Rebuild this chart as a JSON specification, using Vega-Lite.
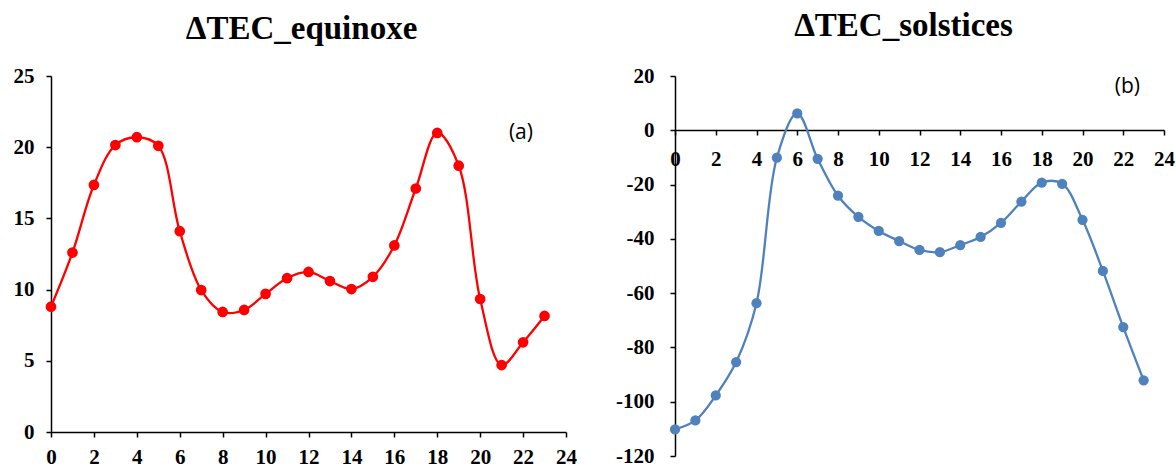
{
  "$schema": "https://vega.github.io/schema/vega-lite/v6.json",
  "padding": {"left": 13, "top": 10, "right": 5, "bottom": 5},
  "background": "white",
  "spacing": 109,
  "bounds": "flush",
  "config": {
    "view": {"stroke": null},
    "axis": {
      "labelFont": "Liberation Serif",
      "labelFontWeight": "bold",
      "labelFontSize": 21,
      "labelColor": "black",
      "domainColor": "black",
      "domainWidth": 1.5,
      "tickColor": "black",
      "tickWidth": 1.5,
      "tickSize": 5,
      "grid": false,
      "title": null
    },
    "title": {
      "font": "Liberation Serif",
      "fontSize": 33,
      "fontWeight": "bold",
      "color": "black",
      "anchor": "middle"
    }
  },
  "datasets": {
    "eq": [
      {"h": 0, "v": 8.8}, {"h": 1, "v": 12.6}, {"h": 2, "v": 17.35}, {"h": 3, "v": 20.15},
      {"h": 4, "v": 20.7}, {"h": 5, "v": 20.1}, {"h": 6, "v": 14.1}, {"h": 7, "v": 9.97},
      {"h": 8, "v": 8.43}, {"h": 9, "v": 8.57}, {"h": 10, "v": 9.7}, {"h": 11, "v": 10.8},
      {"h": 12, "v": 11.24}, {"h": 13, "v": 10.6}, {"h": 14, "v": 10.04}, {"h": 15, "v": 10.9},
      {"h": 16, "v": 13.1}, {"h": 17, "v": 17.1}, {"h": 18, "v": 21.0}, {"h": 19, "v": 18.7},
      {"h": 20, "v": 9.34}, {"h": 21, "v": 4.7}, {"h": 22, "v": 6.3}, {"h": 23, "v": 8.15}
    ],
    "sol": [
      {"h": 0, "v": -110.2}, {"h": 1, "v": -106.9}, {"h": 2, "v": -97.7}, {"h": 3, "v": -85.4},
      {"h": 4, "v": -63.7}, {"h": 5, "v": -10.1}, {"h": 6, "v": 6.2}, {"h": 7, "v": -10.5},
      {"h": 8, "v": -24.1}, {"h": 9, "v": -31.9}, {"h": 10, "v": -37.1}, {"h": 11, "v": -40.8},
      {"h": 12, "v": -44.1}, {"h": 13, "v": -44.9}, {"h": 14, "v": -42.3}, {"h": 15, "v": -39.3},
      {"h": 16, "v": -34.1}, {"h": 17, "v": -26.3}, {"h": 18, "v": -19.3}, {"h": 19, "v": -19.7},
      {"h": 20, "v": -33.0}, {"h": 21, "v": -51.8}, {"h": 22, "v": -72.5}, {"h": 23, "v": -92.1}
    ],
    "labA": [{"label": "(a)"}],
    "labB": [{"label": "(b)"}]
  },
  "hconcat": [
    {
      "title": {"text": "ΔTEC_equinoxe", "offset": 19, "dx": -7},
      "width": 515,
      "height": 356,
      "layer": [
        {"data": {"name": "eq"},
         "mark": {"type": "line", "interpolate": "catmull-rom", "color": "#FF0000", "strokeWidth": 2.3},
         "encoding": {
           "x": {"field": "h", "type": "quantitative",
                 "scale": {"domain": [0, 24], "nice": false, "zero": false},
                 "axis": {"values": [0,1,2,3,4,5,6,7,8,9,10,11,12,13,14,15,16,17,18,19,20,21,22,23,24],
                          "labelExpr": "datum.value % 2 == 0 ? datum.label : ''",
                          "labelPadding": 9, "labelFlush": false, "labelOverlap": false}},
           "y": {"field": "v", "type": "quantitative",
                 "scale": {"domain": [0, 25], "nice": false},
                 "axis": {"values": [0, 5, 10, 15, 20, 25], "labelPadding": 12}}
         }},
        {"data": {"name": "eq"},
         "mark": {"type": "circle", "color": "#FF0000", "opacity": 1, "size": 115},
         "encoding": {
           "x": {"field": "h", "type": "quantitative"},
           "y": {"field": "v", "type": "quantitative"}
         }},
        {"data": {"name": "labA"},
         "mark": {"type": "text", "font": "Open Sans", "fontWeight": 400, "fontSize": 21, "color": "black"},
         "encoding": {"text": {"field": "label"}, "x": {"datum": 21.9}, "y": {"datum": 21.0}}}
      ]
    },
    {
      "title": {"text": "ΔTEC_solstices", "offset": 22, "dx": -16},
      "width": 489,
      "height": 380,
      "layer": [
        {"data": {"name": "sol"},
         "mark": {"type": "line", "interpolate": "catmull-rom", "color": "#4F81BD", "strokeWidth": 2.3},
         "encoding": {
           "x": {"field": "h", "type": "quantitative",
                 "scale": {"domain": [0, 24], "nice": false, "zero": false},
                 "axis": {"values": [0,1,2,3,4,5,6,7,8,9,10,11,12,13,14,15,16,17,18,19,20,21,22,23,24],
                          "labelExpr": "datum.value % 2 == 0 ? datum.label : ''",
                          "offset": -326, "labelPadding": 13, "labelFlush": false, "labelOverlap": false}},
           "y": {"field": "v", "type": "quantitative",
                 "scale": {"domain": [-120, 20], "nice": false},
                 "axis": {"values": [-120, -100, -80, -60, -40, -20, 0, 20], "labelPadding": 16,
                          "labelExpr": "replace(datum.label, '\u2212', '-')"}}
         }},
        {"data": {"name": "sol"},
         "mark": {"type": "circle", "color": "#4F81BD", "opacity": 1, "size": 105},
         "encoding": {
           "x": {"field": "h", "type": "quantitative"},
           "y": {"field": "v", "type": "quantitative"}
         }},
        {"data": {"name": "labB"},
         "mark": {"type": "text", "font": "Open Sans", "fontWeight": 400, "fontSize": 21, "color": "black"},
         "encoding": {"text": {"field": "label"}, "x": {"datum": 22.2}, "y": {"datum": 16.1}}}
      ]
    }
  ]
}
